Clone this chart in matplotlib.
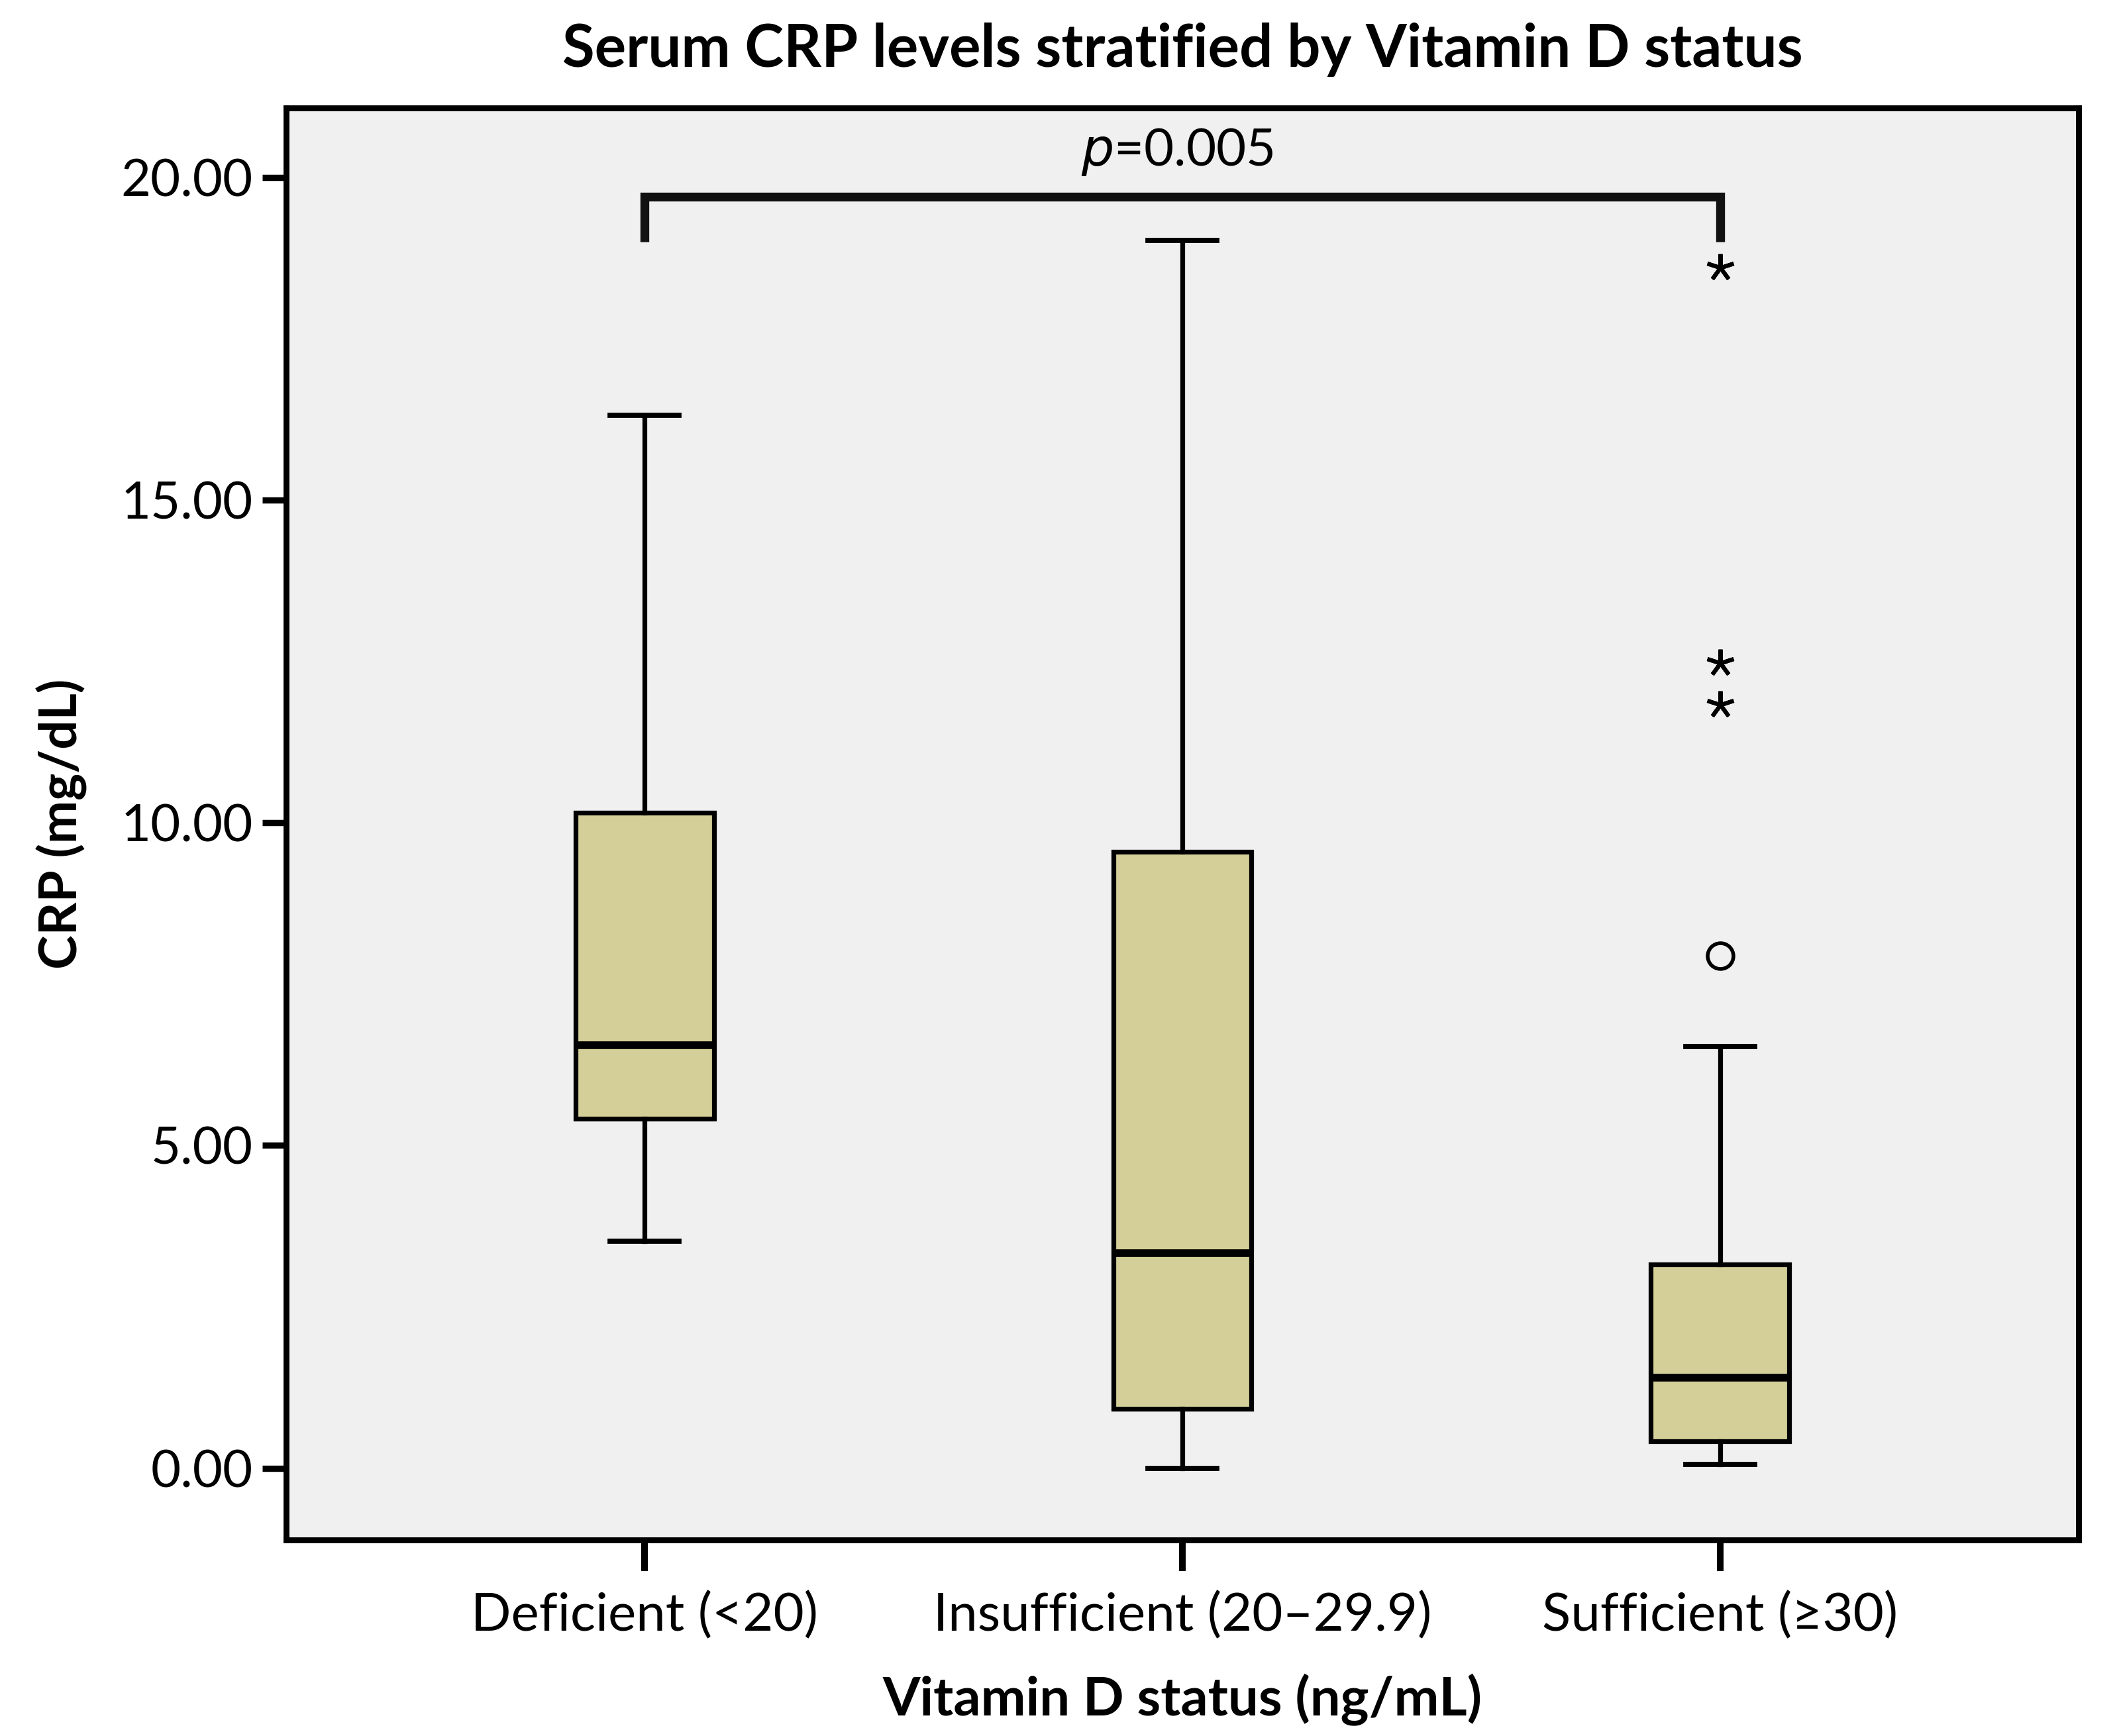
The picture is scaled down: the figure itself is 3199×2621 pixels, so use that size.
import numpy as np
import matplotlib.pyplot as plt

# Box statistics (CRP, mg/dL)
groups = ["Deficient (<20)", "Insufficient (20\u201329.9)", "Sufficient (\u226530)"]
whisker_low = [3.52, 0.00, 0.06]
q1 = [5.42, 0.92, 0.42]
median = [6.55, 3.33, 1.40]
q3 = [10.16, 9.55, 3.16]
whisker_high = [16.31, 19.02, 6.53]

# outliers (circle) and extreme values (asterisk), only in the sufficient group
outliers = [[], [], [7.94]]
extremes = [[], [], [18.60, 12.48, 11.83]]

y_ticks = [0, 5, 10, 15, 20]
p_text = "0.005"

plt.rcParams['font.family'] = ['Lato', 'DejaVu Sans']

BOX_FILL = "#d4cf98"
BG = "#f0f0f0"


def box_stats():
    stats = []
    for i, name in enumerate(groups):
        stats.append({
            "label": name,
            "whislo": whisker_low[i],
            "q1": q1[i],
            "med": median[i],
            "q3": q3[i],
            "whishi": whisker_high[i],
            "fliers": outliers[i],
        })
    return stats


def main():
    fig = plt.figure(figsize=(15.995, 13.105), dpi=200)
    ax = fig.add_axes([0.135, 0.113, 0.846, 0.825])
    ax.set_facecolor(BG)

    positions = np.arange(1, len(groups) + 1)
    ax.bxp(box_stats(), positions=positions, widths=0.257, capwidths=0.128,
           patch_artist=True,
           boxprops=dict(facecolor=BOX_FILL, edgecolor="black", linewidth=2.6),
           medianprops=dict(color="black", linewidth=4.2, solid_capstyle="butt"),
           whiskerprops=dict(color="black", linewidth=2.6),
           capprops=dict(color="black", linewidth=2.8),
           flierprops=dict(marker="o", markersize=14, markerfacecolor="none",
                           markeredgecolor="black", markeredgewidth=2.0))

    # extreme values drawn as asterisks
    for pos, vals in zip(positions, extremes):
        if vals:
            ax.plot([pos] * len(vals), vals, linestyle="none", marker=(5, 2, 0),
                    markersize=15, markeredgewidth=2.2, color="black")

    # significance bracket between deficient and sufficient
    x1, x2 = positions[0], positions[-1]
    top, leg = 19.70, 19.0
    ax.plot([x1, x1, x2, x2], [leg, top, top, leg], color="#111111",
            linewidth=4.8, solid_joinstyle="miter", solid_capstyle="butt")
    ax.text((x1 + x2) / 2 - 0.01, 20.18, r"$\it{p}$" + "=" + p_text,
            ha="center", va="baseline", fontsize=28)

    ax.set_xlim(0.333, 3.667)
    ax.set_ylim(-1.11, 21.08)
    ax.set_yticks(y_ticks)
    ax.set_yticklabels([f"{v:.2f}" for v in y_ticks])
    ax.set_xticks(positions)
    ax.set_xticklabels(groups)

    ax.tick_params(axis="y", length=13, width=3.4, pad=5, labelsize=28)
    ax.tick_params(axis="x", length=17, width=3.6, pad=11, labelsize=28.7)
    for sp in ax.spines.values():
        sp.set_linewidth(3.2)

    ax.set_title("Serum CRP levels stratified by Vitamin D status",
                 fontsize=32, fontweight="bold", pad=22)
    ax.set_xlabel("Vitamin D status (ng/mL)", fontsize=29.3, fontweight="bold", labelpad=18)
    ax.set_ylabel("CRP (mg/dL)", fontsize=28, fontweight="bold", labelpad=18)

    fig.savefig("out.png", dpi=200)


if __name__ == "__main__":
    main()
